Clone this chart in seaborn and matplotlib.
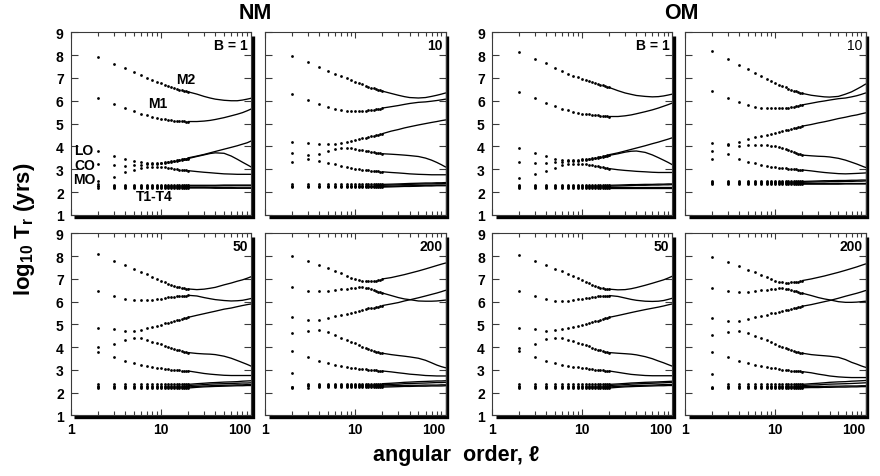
import matplotlib
matplotlib.use("Agg")
import matplotlib.pyplot as plt
from matplotlib.ticker import FixedLocator, LogLocator, NullFormatter, NullLocator
from matplotlib.transforms import offset_copy
import pandas as pd
import seaborn as sns

# ---------------------------------------------------------------- data
DOT_ORDERS = [2, 3, 4, 5, 6, 7, 8, 9, 10, 11, 12, 13, 14, 15, 16, 17, 18, 19, 20]
LINE_ORDERS = [20, 25, 30, 35, 40, 50, 60, 70, 80, 90, 100]
BRANCHES = ["M2", "M1", "LO", "CO", "MO", "T1", "T2", "T3", "T4"]
GROUPS = ["NM", "OM"]
FIELD_LABELS = ["B = 1", "10", "50", "200"]
Y_TICKS = [1, 2, 3, 4, 5, 6, 7, 8, 9]
X_TICKS = [1, 10, 100]
X_TICK_LABELS = ["1", "10", "100"]
MODE_NAMES = ["M2", "M1", "LO", "CO", "MO", "T1-T4"]

NM_B1_DOTS = {
    "M2": [7.90, 7.61, 7.42, 7.24, 7.11, 7.00, 6.91, 6.83, 6.76, 6.70, 6.65, 6.60, 6.56, 6.52, 6.49, 6.46, 6.43, 6.41, 6.39],
    "M1": [6.14, 5.85, 5.68, 5.53, 5.44, 5.36, 5.31, 5.26, 5.22, 5.19, 5.17, 5.15, 5.13, 5.12, 5.11, 5.10, 5.10, 5.09, 5.09],
    "LO": [3.78, 3.60, 3.47, 3.37, 3.31, 3.28, 3.27, 3.28, 3.29, 3.31, 3.33, 3.35, 3.37, 3.39, 3.41, 3.43, 3.45, 3.47, 3.50],
    "CO": [3.25, 3.18, 3.16, 3.17, 3.19, 3.21, 3.23, 3.25, 3.27, 3.29, 3.31, 3.33, 3.35, 3.37, 3.39, 3.41, 3.43, 3.45, 3.47],
    "MO": [2.47, 2.67, 2.86, 2.97, 3.04, 3.08, 3.10, 3.10, 3.09, 3.08, 3.06, 3.04, 3.02, 3.01, 2.99, 2.98, 2.96, 2.95, 2.94],
    "T1": [2.20, 2.20, 2.19, 2.19, 2.19, 2.19, 2.19, 2.18, 2.18, 2.18, 2.18, 2.18, 2.18, 2.18, 2.18, 2.18, 2.18, 2.18, 2.18],
    "T2": [2.25, 2.24, 2.24, 2.23, 2.23, 2.23, 2.22, 2.22, 2.22, 2.22, 2.21, 2.21, 2.21, 2.21, 2.21, 2.21, 2.21, 2.21, 2.21],
    "T3": [2.29, 2.29, 2.28, 2.28, 2.28, 2.27, 2.27, 2.27, 2.27, 2.27, 2.27, 2.27, 2.27, 2.27, 2.27, 2.27, 2.27, 2.27, 2.27],
    "T4": [2.34, 2.33, 2.33, 2.32, 2.32, 2.31, 2.31, 2.31, 2.30, 2.30, 2.30, 2.30, 2.30, 2.30, 2.30, 2.30, 2.30, 2.30, 2.30],
}
NM_B1_LINES = {
    "M2": [6.39, 6.29, 6.19, 6.12, 6.07, 6.02, 6.00, 6.00, 6.03, 6.07, 6.11],
    "M1": [5.09, 5.09, 5.11, 5.14, 5.18, 5.26, 5.34, 5.41, 5.48, 5.56, 5.64],
    "LO": [3.50, 3.58, 3.65, 3.72, 3.78, 3.88, 3.96, 4.03, 4.10, 4.16, 4.24],
    "CO": [3.47, 3.56, 3.63, 3.69, 3.72, 3.70, 3.58, 3.44, 3.31, 3.20, 3.10],
    "MO": [2.94, 2.90, 2.87, 2.85, 2.83, 2.80, 2.79, 2.78, 2.78, 2.78, 2.78],
    "T1": [2.18, 2.18, 2.18, 2.18, 2.17, 2.17, 2.17, 2.17, 2.17, 2.17, 2.17],
    "T2": [2.21, 2.21, 2.21, 2.20, 2.20, 2.20, 2.20, 2.19, 2.19, 2.19, 2.19],
    "T3": [2.27, 2.27, 2.27, 2.27, 2.27, 2.28, 2.28, 2.28, 2.28, 2.28, 2.28],
    "T4": [2.30, 2.30, 2.30, 2.30, 2.30, 2.31, 2.31, 2.31, 2.31, 2.31, 2.31],
}

NM_B10_DOTS = {
    "M2": [7.95, 7.68, 7.48, 7.32, 7.18, 7.07, 6.98, 6.91, 6.84, 6.78, 6.72, 6.66, 6.61, 6.57, 6.54, 6.51, 6.48, 6.45, 6.42],
    "M1": [6.29, 6.04, 5.87, 5.74, 5.65, 5.60, 5.57, 5.55, 5.54, 5.54, 5.55, 5.56, 5.58, 5.59, 5.61, 5.62, 5.64, 5.66, 5.68],
    "LO": [4.21, 4.13, 4.10, 4.10, 4.12, 4.16, 4.20, 4.24, 4.28, 4.32, 4.35, 4.38, 4.41, 4.44, 4.47, 4.49, 4.51, 4.54, 4.56],
    "CO": [3.70, 3.62, 3.68, 3.82, 3.88, 3.91, 3.92, 3.91, 3.89, 3.86, 3.83, 3.81, 3.79, 3.77, 3.75, 3.73, 3.71, 3.70, 3.68],
    "MO": [3.32, 3.46, 3.38, 3.29, 3.21, 3.15, 3.10, 3.06, 3.03, 3.00, 2.98, 2.96, 2.95, 2.94, 2.93, 2.92, 2.91, 2.90, 2.89],
    "T1": [2.21, 2.21, 2.21, 2.21, 2.21, 2.21, 2.21, 2.21, 2.21, 2.21, 2.21, 2.21, 2.21, 2.21, 2.21, 2.21, 2.21, 2.22, 2.22],
    "T2": [2.25, 2.25, 2.25, 2.25, 2.25, 2.25, 2.25, 2.25, 2.25, 2.25, 2.25, 2.25, 2.25, 2.25, 2.25, 2.25, 2.25, 2.25, 2.25],
    "T3": [2.29, 2.29, 2.29, 2.29, 2.29, 2.29, 2.29, 2.29, 2.29, 2.29, 2.29, 2.29, 2.29, 2.29, 2.29, 2.29, 2.30, 2.30, 2.30],
    "T4": [2.34, 2.34, 2.34, 2.34, 2.34, 2.34, 2.34, 2.34, 2.34, 2.34, 2.34, 2.34, 2.34, 2.34, 2.34, 2.34, 2.34, 2.34, 2.34],
}
NM_B10_LINES = {
    "M2": [6.42, 6.32, 6.24, 6.18, 6.14, 6.12, 6.14, 6.19, 6.24, 6.29, 6.34],
    "M1": [5.68, 5.74, 5.79, 5.84, 5.88, 5.93, 5.95, 5.98, 6.01, 6.04, 6.07],
    "LO": [4.56, 4.67, 4.74, 4.81, 4.86, 4.94, 5.00, 5.05, 5.09, 5.13, 5.16],
    "CO": [3.68, 3.66, 3.64, 3.62, 3.60, 3.56, 3.49, 3.40, 3.30, 3.20, 3.10],
    "MO": [2.89, 2.86, 2.84, 2.82, 2.80, 2.78, 2.77, 2.76, 2.76, 2.76, 2.76],
    "T1": [2.22, 2.23, 2.24, 2.25, 2.25, 2.26, 2.27, 2.27, 2.28, 2.28, 2.28],
    "T2": [2.25, 2.26, 2.27, 2.28, 2.28, 2.29, 2.30, 2.30, 2.31, 2.31, 2.31],
    "T3": [2.30, 2.31, 2.32, 2.33, 2.34, 2.35, 2.36, 2.36, 2.37, 2.37, 2.38],
    "T4": [2.34, 2.35, 2.36, 2.37, 2.38, 2.39, 2.40, 2.40, 2.41, 2.41, 2.42],
}

NM_B50_DOTS = {
    "M2": [8.10, 7.79, 7.62, 7.44, 7.32, 7.21, 7.10, 7.01, 6.93, 6.85, 6.79, 6.74, 6.69, 6.66, 6.63, 6.60, 6.59, 6.57, 6.56],
    "M1": [6.49, 6.27, 6.12, 6.08, 6.06, 6.06, 6.08, 6.11, 6.13, 6.16, 6.19, 6.21, 6.22, 6.24, 6.25, 6.26, 6.27, 6.27, 6.28],
    "LO": [4.83, 4.80, 4.73, 4.73, 4.77, 4.83, 4.89, 4.95, 4.99, 5.04, 5.08, 5.12, 5.15, 5.18, 5.21, 5.24, 5.27, 5.29, 5.31],
    "CO": [3.99, 4.14, 4.32, 4.40, 4.39, 4.33, 4.24, 4.18, 4.13, 4.07, 4.02, 3.97, 3.92, 3.89, 3.86, 3.83, 3.80, 3.78, 3.76],
    "MO": [3.80, 3.55, 3.38, 3.28, 3.22, 3.17, 3.13, 3.10, 3.07, 3.05, 3.03, 3.01, 3.00, 2.99, 2.98, 2.97, 2.97, 2.96, 2.95],
    "T1": [2.20, 2.20, 2.20, 2.20, 2.20, 2.20, 2.20, 2.20, 2.20, 2.20, 2.20, 2.20, 2.20, 2.20, 2.20, 2.20, 2.20, 2.20, 2.20],
    "T2": [2.25, 2.25, 2.25, 2.25, 2.25, 2.25, 2.25, 2.25, 2.25, 2.25, 2.25, 2.25, 2.25, 2.25, 2.25, 2.25, 2.25, 2.25, 2.25],
    "T3": [2.31, 2.31, 2.31, 2.31, 2.31, 2.31, 2.31, 2.31, 2.31, 2.31, 2.31, 2.31, 2.31, 2.31, 2.31, 2.31, 2.31, 2.31, 2.31],
    "T4": [2.36, 2.36, 2.36, 2.36, 2.36, 2.36, 2.36, 2.36, 2.36, 2.36, 2.36, 2.36, 2.36, 2.36, 2.36, 2.36, 2.36, 2.36, 2.36],
}
NM_B50_LINES = {
    "M2": [6.56, 6.53, 6.55, 6.59, 6.63, 6.74, 6.82, 6.90, 6.96, 7.03, 7.10],
    "M1": [6.28, 6.25, 6.18, 6.13, 6.09, 6.05, 6.03, 6.04, 6.06, 6.10, 6.14],
    "LO": [5.31, 5.40, 5.47, 5.53, 5.58, 5.67, 5.72, 5.78, 5.83, 5.87, 5.90],
    "CO": [3.76, 3.72, 3.70, 3.69, 3.67, 3.60, 3.51, 3.41, 3.32, 3.24, 3.16],
    "MO": [2.95, 2.89, 2.84, 2.81, 2.79, 2.76, 2.75, 2.75, 2.75, 2.75, 2.75],
    "T1": [2.20, 2.23, 2.25, 2.26, 2.27, 2.28, 2.29, 2.30, 2.30, 2.31, 2.31],
    "T2": [2.25, 2.27, 2.29, 2.30, 2.31, 2.32, 2.33, 2.34, 2.34, 2.35, 2.35],
    "T3": [2.31, 2.33, 2.35, 2.37, 2.38, 2.39, 2.40, 2.41, 2.42, 2.42, 2.43],
    "T4": [2.36, 2.39, 2.41, 2.43, 2.44, 2.46, 2.47, 2.48, 2.50, 2.51, 2.52],
}

NM_B200_DOTS = {
    "M2": [8.03, 7.81, 7.63, 7.47, 7.35, 7.25, 7.15, 7.06, 7.00, 6.95, 6.92, 6.90, 6.89, 6.90, 6.91, 6.93, 6.95, 6.97, 7.00],
    "M1": [6.63, 6.49, 6.46, 6.47, 6.50, 6.55, 6.57, 6.60, 6.62, 6.63, 6.63, 6.62, 6.59, 6.56, 6.52, 6.48, 6.44, 6.41, 6.38],
    "LO": [5.31, 5.20, 5.20, 5.27, 5.36, 5.42, 5.47, 5.52, 5.56, 5.60, 5.64, 5.67, 5.70, 5.72, 5.74, 5.76, 5.78, 5.81, 5.83],
    "CO": [4.62, 4.73, 4.77, 4.65, 4.54, 4.42, 4.32, 4.23, 4.16, 4.09, 4.02, 3.96, 3.91, 3.87, 3.83, 3.80, 3.77, 3.75, 3.73],
    "MO": [3.85, 3.58, 3.41, 3.30, 3.23, 3.17, 3.13, 3.10, 3.07, 3.05, 3.04, 3.02, 3.01, 3.00, 3.00, 2.99, 2.97, 2.96, 2.95],
    "T1": [2.20, 2.22, 2.23, 2.23, 2.24, 2.24, 2.24, 2.24, 2.24, 2.24, 2.24, 2.24, 2.24, 2.24, 2.24, 2.24, 2.24, 2.24, 2.24],
    "T2": [2.23, 2.27, 2.28, 2.28, 2.29, 2.29, 2.29, 2.29, 2.29, 2.29, 2.29, 2.29, 2.29, 2.29, 2.29, 2.29, 2.29, 2.29, 2.29],
    "T3": [2.26, 2.32, 2.33, 2.33, 2.34, 2.34, 2.34, 2.34, 2.34, 2.34, 2.34, 2.34, 2.34, 2.34, 2.34, 2.34, 2.34, 2.34, 2.34],
    "T4": [2.87, 2.37, 2.38, 2.38, 2.39, 2.39, 2.39, 2.39, 2.39, 2.39, 2.39, 2.39, 2.39, 2.39, 2.39, 2.39, 2.39, 2.39, 2.39],
}
NM_B200_LINES = {
    "M2": [7.00, 7.06, 7.13, 7.19, 7.25, 7.35, 7.44, 7.52, 7.59, 7.65, 7.70],
    "M1": [6.38, 6.27, 6.18, 6.12, 6.09, 6.03, 6.02, 6.02, 6.03, 6.05, 6.07],
    "LO": [5.83, 5.90, 5.96, 6.03, 6.08, 6.17, 6.25, 6.32, 6.38, 6.44, 6.50],
    "CO": [3.73, 3.67, 3.63, 3.60, 3.57, 3.51, 3.42, 3.31, 3.21, 3.14, 3.09],
    "MO": [2.95, 2.91, 2.87, 2.84, 2.81, 2.78, 2.75, 2.74, 2.73, 2.73, 2.73],
    "T1": [2.24, 2.25, 2.26, 2.27, 2.27, 2.28, 2.28, 2.29, 2.29, 2.29, 2.30],
    "T2": [2.29, 2.30, 2.31, 2.31, 2.32, 2.32, 2.33, 2.33, 2.33, 2.34, 2.34],
    "T3": [2.34, 2.36, 2.37, 2.39, 2.40, 2.41, 2.42, 2.43, 2.44, 2.44, 2.45],
    "T4": [2.39, 2.41, 2.43, 2.45, 2.46, 2.48, 2.49, 2.50, 2.51, 2.51, 2.52],
}

OM_B1_DOTS = {
    "M2": [8.12, 7.83, 7.64, 7.45, 7.30, 7.18, 7.10, 7.02, 6.95, 6.90, 6.86, 6.81, 6.77, 6.73, 6.70, 6.67, 6.64, 6.61, 6.58],
    "M1": [6.38, 6.10, 5.90, 5.75, 5.66, 5.58, 5.52, 5.47, 5.44, 5.42, 5.40, 5.38, 5.37, 5.36, 5.34, 5.33, 5.33, 5.32, 5.31],
    "LO": [3.95, 3.73, 3.58, 3.47, 3.42, 3.40, 3.40, 3.41, 3.43, 3.45, 3.47, 3.49, 3.51, 3.53, 3.55, 3.57, 3.59, 3.61, 3.64],
    "CO": [3.32, 3.26, 3.29, 3.32, 3.33, 3.35, 3.36, 3.38, 3.40, 3.42, 3.44, 3.46, 3.48, 3.50, 3.52, 3.54, 3.56, 3.58, 3.61],
    "MO": [2.63, 2.78, 2.92, 3.07, 3.17, 3.22, 3.25, 3.25, 3.24, 3.22, 3.20, 3.17, 3.15, 3.13, 3.11, 3.09, 3.07, 3.05, 3.03],
    "T1": [2.17, 2.17, 2.17, 2.17, 2.17, 2.17, 2.17, 2.17, 2.17, 2.17, 2.17, 2.17, 2.17, 2.17, 2.17, 2.17, 2.17, 2.17, 2.17],
    "T2": [2.21, 2.21, 2.21, 2.21, 2.21, 2.21, 2.21, 2.21, 2.21, 2.21, 2.21, 2.21, 2.21, 2.21, 2.21, 2.21, 2.21, 2.21, 2.21],
    "T3": [2.26, 2.26, 2.26, 2.26, 2.26, 2.26, 2.26, 2.26, 2.26, 2.26, 2.26, 2.26, 2.26, 2.26, 2.26, 2.26, 2.26, 2.26, 2.26],
    "T4": [2.30, 2.30, 2.30, 2.30, 2.30, 2.30, 2.30, 2.30, 2.30, 2.30, 2.30, 2.30, 2.30, 2.30, 2.30, 2.30, 2.30, 2.30, 2.30],
}
OM_B1_LINES = {
    "M2": [6.58, 6.44, 6.34, 6.28, 6.23, 6.19, 6.17, 6.18, 6.21, 6.25, 6.29],
    "M1": [5.31, 5.31, 5.34, 5.38, 5.43, 5.52, 5.60, 5.68, 5.76, 5.83, 5.90],
    "LO": [3.64, 3.72, 3.80, 3.87, 3.93, 4.03, 4.12, 4.19, 4.26, 4.32, 4.38],
    "CO": [3.61, 3.68, 3.75, 3.79, 3.80, 3.74, 3.63, 3.51, 3.40, 3.30, 3.20],
    "MO": [3.03, 2.98, 2.95, 2.93, 2.91, 2.89, 2.87, 2.86, 2.86, 2.86, 2.86],
    "T1": [2.17, 2.17, 2.17, 2.17, 2.17, 2.17, 2.17, 2.17, 2.17, 2.17, 2.17],
    "T2": [2.21, 2.21, 2.21, 2.21, 2.21, 2.21, 2.21, 2.21, 2.21, 2.21, 2.21],
    "T3": [2.26, 2.27, 2.28, 2.29, 2.30, 2.30, 2.31, 2.31, 2.32, 2.32, 2.33],
    "T4": [2.30, 2.31, 2.32, 2.33, 2.33, 2.34, 2.34, 2.35, 2.35, 2.36, 2.36],
}

OM_B10_DOTS = {
    "M2": [8.19, 7.83, 7.58, 7.37, 7.21, 7.07, 6.95, 6.85, 6.78, 6.70, 6.63, 6.58, 6.53, 6.48, 6.44, 6.41, 6.38, 6.35, 6.32],
    "M1": [6.44, 6.12, 5.93, 5.81, 5.74, 5.70, 5.68, 5.67, 5.67, 5.67, 5.68, 5.69, 5.70, 5.72, 5.74, 5.76, 5.78, 5.80, 5.82],
    "LO": [4.17, 4.10, 4.20, 4.31, 4.40, 4.46, 4.50, 4.55, 4.60, 4.64, 4.67, 4.71, 4.74, 4.77, 4.79, 4.82, 4.84, 4.86, 4.89],
    "CO": [3.80, 4.05, 4.02, 4.07, 4.08, 4.07, 4.06, 4.04, 4.01, 3.97, 3.93, 3.88, 3.83, 3.79, 3.75, 3.71, 3.68, 3.65, 3.62],
    "MO": [3.47, 3.66, 3.47, 3.33, 3.26, 3.19, 3.14, 3.11, 3.08, 3.06, 3.05, 3.04, 3.03, 3.02, 3.01, 3.00, 2.99, 2.98, 2.97],
    "T1": [2.35, 2.35, 2.35, 2.35, 2.35, 2.35, 2.35, 2.35, 2.35, 2.35, 2.35, 2.35, 2.35, 2.35, 2.35, 2.35, 2.35, 2.35, 2.35],
    "T2": [2.39, 2.39, 2.39, 2.39, 2.39, 2.39, 2.39, 2.39, 2.39, 2.39, 2.39, 2.39, 2.39, 2.39, 2.39, 2.39, 2.39, 2.39, 2.39],
    "T3": [2.43, 2.43, 2.43, 2.43, 2.43, 2.43, 2.43, 2.43, 2.43, 2.43, 2.43, 2.43, 2.43, 2.43, 2.43, 2.43, 2.43, 2.43, 2.43],
    "T4": [2.47, 2.47, 2.47, 2.47, 2.47, 2.47, 2.47, 2.47, 2.47, 2.47, 2.47, 2.47, 2.47, 2.47, 2.47, 2.47, 2.47, 2.47, 2.47],
}
OM_B10_LINES = {
    "M2": [6.32, 6.24, 6.20, 6.17, 6.16, 6.19, 6.29, 6.39, 6.51, 6.62, 6.73],
    "M1": [5.82, 5.89, 5.95, 5.99, 6.03, 6.09, 6.12, 6.17, 6.22, 6.28, 6.34],
    "LO": [4.89, 4.96, 5.03, 5.08, 5.13, 5.22, 5.28, 5.34, 5.38, 5.43, 5.47],
    "CO": [3.62, 3.59, 3.57, 3.56, 3.54, 3.48, 3.40, 3.31, 3.23, 3.15, 3.08],
    "MO": [2.97, 2.93, 2.89, 2.86, 2.84, 2.81, 2.80, 2.81, 2.82, 2.83, 2.84],
    "T1": [2.35, 2.35, 2.35, 2.35, 2.35, 2.35, 2.36, 2.36, 2.36, 2.36, 2.36],
    "T2": [2.39, 2.39, 2.39, 2.39, 2.39, 2.39, 2.39, 2.39, 2.39, 2.39, 2.39],
    "T3": [2.43, 2.44, 2.45, 2.45, 2.46, 2.46, 2.47, 2.47, 2.48, 2.48, 2.49],
    "T4": [2.47, 2.48, 2.49, 2.50, 2.50, 2.51, 2.51, 2.52, 2.52, 2.53, 2.53],
}

OM_B50_DOTS = {
    "M2": [8.05, 7.79, 7.62, 7.44, 7.33, 7.22, 7.11, 7.02, 6.94, 6.86, 6.80, 6.74, 6.69, 6.65, 6.62, 6.59, 6.57, 6.56, 6.55],
    "M1": [6.47, 6.26, 6.11, 6.05, 6.04, 6.05, 6.07, 6.10, 6.13, 6.16, 6.18, 6.20, 6.22, 6.24, 6.25, 6.26, 6.27, 6.27, 6.27],
    "LO": [4.83, 4.79, 4.73, 4.74, 4.78, 4.83, 4.89, 4.94, 4.98, 5.03, 5.07, 5.11, 5.14, 5.17, 5.20, 5.23, 5.26, 5.29, 5.31],
    "CO": [3.97, 4.14, 4.36, 4.40, 4.38, 4.32, 4.25, 4.19, 4.13, 4.08, 4.03, 3.98, 3.93, 3.89, 3.86, 3.83, 3.80, 3.78, 3.76],
    "MO": [3.82, 3.55, 3.38, 3.29, 3.23, 3.18, 3.14, 3.11, 3.08, 3.06, 3.04, 3.02, 3.01, 3.00, 2.99, 2.98, 2.97, 2.96, 2.95],
    "T1": [2.20, 2.20, 2.20, 2.20, 2.20, 2.20, 2.20, 2.20, 2.20, 2.20, 2.20, 2.20, 2.20, 2.20, 2.20, 2.20, 2.20, 2.20, 2.20],
    "T2": [2.25, 2.25, 2.25, 2.25, 2.25, 2.25, 2.25, 2.25, 2.25, 2.25, 2.25, 2.25, 2.25, 2.25, 2.25, 2.25, 2.25, 2.25, 2.25],
    "T3": [2.31, 2.31, 2.31, 2.31, 2.31, 2.31, 2.31, 2.31, 2.31, 2.31, 2.31, 2.31, 2.31, 2.31, 2.31, 2.31, 2.31, 2.31, 2.31],
    "T4": [2.36, 2.36, 2.36, 2.36, 2.36, 2.36, 2.36, 2.36, 2.36, 2.36, 2.36, 2.36, 2.36, 2.36, 2.36, 2.36, 2.36, 2.36, 2.36],
}
OM_B50_LINES = {
    "M2": [6.55, 6.52, 6.53, 6.57, 6.62, 6.72, 6.81, 6.89, 6.96, 7.04, 7.12],
    "M1": [6.27, 6.23, 6.16, 6.10, 6.06, 6.02, 6.01, 6.02, 6.05, 6.10, 6.15],
    "LO": [5.31, 5.39, 5.46, 5.52, 5.57, 5.65, 5.71, 5.76, 5.81, 5.86, 5.90],
    "CO": [3.76, 3.73, 3.71, 3.69, 3.66, 3.58, 3.49, 3.39, 3.31, 3.23, 3.16],
    "MO": [2.95, 2.89, 2.84, 2.80, 2.78, 2.75, 2.74, 2.74, 2.74, 2.74, 2.74],
    "T1": [2.20, 2.23, 2.25, 2.26, 2.27, 2.28, 2.29, 2.30, 2.30, 2.31, 2.31],
    "T2": [2.25, 2.27, 2.29, 2.30, 2.31, 2.32, 2.33, 2.34, 2.35, 2.35, 2.36],
    "T3": [2.31, 2.33, 2.35, 2.37, 2.38, 2.40, 2.41, 2.42, 2.43, 2.44, 2.45],
    "T4": [2.36, 2.38, 2.40, 2.42, 2.43, 2.45, 2.46, 2.47, 2.48, 2.49, 2.50],
}

OM_B200_DOTS = {
    "M2": [7.95, 7.76, 7.59, 7.41, 7.29, 7.18, 7.07, 7.00, 6.93, 6.88, 6.85, 6.84, 6.84, 6.85, 6.86, 6.87, 6.88, 6.90, 6.93],
    "M1": [6.59, 6.46, 6.43, 6.44, 6.47, 6.50, 6.53, 6.56, 6.57, 6.58, 6.58, 6.57, 6.55, 6.52, 6.49, 6.46, 6.43, 6.40, 6.37],
    "LO": [5.27, 5.17, 5.17, 5.24, 5.31, 5.39, 5.43, 5.48, 5.52, 5.56, 5.59, 5.62, 5.65, 5.68, 5.71, 5.73, 5.75, 5.78, 5.80],
    "CO": [4.54, 4.68, 4.73, 4.62, 4.51, 4.39, 4.30, 4.21, 4.14, 4.07, 4.01, 3.96, 3.91, 3.87, 3.83, 3.80, 3.77, 3.75, 3.73],
    "MO": [3.80, 3.55, 3.38, 3.28, 3.20, 3.16, 3.11, 3.09, 3.06, 3.03, 3.01, 3.00, 2.98, 2.97, 2.97, 2.96, 2.95, 2.94, 2.92],
    "T1": [2.19, 2.21, 2.21, 2.21, 2.21, 2.21, 2.21, 2.21, 2.21, 2.21, 2.21, 2.21, 2.21, 2.21, 2.21, 2.21, 2.21, 2.21, 2.21],
    "T2": [2.22, 2.26, 2.26, 2.26, 2.26, 2.26, 2.26, 2.26, 2.26, 2.26, 2.26, 2.26, 2.26, 2.26, 2.26, 2.26, 2.26, 2.26, 2.26],
    "T3": [2.25, 2.31, 2.31, 2.31, 2.31, 2.31, 2.31, 2.31, 2.31, 2.31, 2.31, 2.31, 2.31, 2.31, 2.31, 2.31, 2.31, 2.31, 2.31],
    "T4": [2.82, 2.36, 2.36, 2.36, 2.36, 2.36, 2.36, 2.36, 2.36, 2.36, 2.36, 2.36, 2.36, 2.36, 2.36, 2.36, 2.36, 2.36, 2.36],
}
OM_B200_LINES = {
    "M2": [6.93, 7.00, 7.07, 7.13, 7.19, 7.29, 7.38, 7.46, 7.53, 7.60, 7.66],
    "M1": [6.37, 6.27, 6.18, 6.12, 6.08, 6.00, 5.97, 5.97, 5.98, 6.00, 6.02],
    "LO": [5.80, 5.87, 5.94, 6.00, 6.05, 6.15, 6.24, 6.31, 6.37, 6.43, 6.49],
    "CO": [3.73, 3.67, 3.64, 3.62, 3.60, 3.55, 3.45, 3.33, 3.25, 3.17, 3.11],
    "MO": [2.92, 2.87, 2.81, 2.77, 2.73, 2.69, 2.67, 2.66, 2.66, 2.66, 2.66],
    "T1": [2.21, 2.22, 2.22, 2.23, 2.23, 2.24, 2.24, 2.25, 2.25, 2.26, 2.26],
    "T2": [2.26, 2.26, 2.27, 2.27, 2.28, 2.28, 2.29, 2.29, 2.29, 2.30, 2.30],
    "T3": [2.31, 2.33, 2.34, 2.36, 2.37, 2.38, 2.39, 2.40, 2.41, 2.42, 2.43],
    "T4": [2.36, 2.39, 2.41, 2.43, 2.45, 2.47, 2.48, 2.50, 2.51, 2.52, 2.53],
}

# --------------------------------------------------------------- style
sns.set_style("ticks")
plt.rcParams.update({
    "font.family": ["Liberation Sans", "DejaVu Sans"],
    "font.weight": "bold",
    "mathtext.fontset": "custom",
    "mathtext.rm": "Liberation Sans:bold",
    "mathtext.bf": "Liberation Sans:bold",
    "mathtext.it": "Liberation Sans:bold:italic",
    "axes.linewidth": 0.8,
    "text.color": "black",
    "axes.labelcolor": "black",
    "xtick.labelcolor": "black",
    "ytick.labelcolor": "black",
})

FRAME = "#3a3a3a"
fig = plt.figure(figsize=(8.8, 4.77), dpi=100)

COL_LEFT = [0.0803, 0.3011, 0.5588, 0.7784]
ROW_BOTTOM = [0.5472, 0.1273]
ROW_HEIGHT = [0.3832, 0.3811]
AX_W = 0.2052

PANELS = [
    # group, row, column inside group, dots, lines, field label, label weight
    ("NM", 0, 0, NM_B1_DOTS, NM_B1_LINES, FIELD_LABELS[0], "bold"),
    ("NM", 0, 1, NM_B10_DOTS, NM_B10_LINES, FIELD_LABELS[1], "bold"),
    ("NM", 1, 0, NM_B50_DOTS, NM_B50_LINES, FIELD_LABELS[2], "bold"),
    ("NM", 1, 1, NM_B200_DOTS, NM_B200_LINES, FIELD_LABELS[3], "bold"),
    ("OM", 0, 0, OM_B1_DOTS, OM_B1_LINES, FIELD_LABELS[0], "bold"),
    ("OM", 0, 1, OM_B10_DOTS, OM_B10_LINES, FIELD_LABELS[1], "normal"),
    ("OM", 1, 0, OM_B50_DOTS, OM_B50_LINES, FIELD_LABELS[2], "bold"),
    ("OM", 1, 1, OM_B200_DOTS, OM_B200_LINES, FIELD_LABELS[3], "bold"),
]


def long_form(table, orders):
    rows = [(b, l, v) for b in BRANCHES for l, v in zip(orders, table[b])]
    return pd.DataFrame(rows, columns=["branch", "l", "T"])


axes = {}
for group, row, sub, dots, lines, label, weight in PANELS:
    col = GROUPS.index(group) * 2 + sub
    ax = fig.add_axes([COL_LEFT[col], ROW_BOTTOM[row], AX_W, ROW_HEIGHT[row]])
    axes[(group, row, sub)] = ax

    sns.lineplot(data=long_form(lines, LINE_ORDERS), x="l", y="T", units="branch",
                 estimator=None, color="black", linewidth=0.95, ax=ax, legend=False)
    sns.scatterplot(data=long_form(dots, DOT_ORDERS), x="l", y="T", color="black",
                    s=4.0, linewidth=0, ax=ax, legend=False)

    # drop shadow along the right and bottom edges
    shadow = offset_copy(ax.transAxes, fig=fig, x=1.6, y=-1.6, units="dots")
    ax.plot([0.012, 1, 1], [0, 0, 0.988], transform=shadow, color="black", lw=2.4,
            clip_on=False, solid_joinstyle="miter", solid_capstyle="butt")

    ax.set_xscale("log")
    ax.set_xlim(1, 100)
    ax.set_ylim(1, 9)
    ax.set_xlabel("")
    ax.set_ylabel("")
    for side in ax.spines.values():
        side.set_color(FRAME)
        side.set_linewidth(0.8)

    ax.xaxis.set_major_locator(FixedLocator(X_TICKS))
    ax.xaxis.set_minor_locator(LogLocator(base=10, subs=(2, 3, 4, 5, 6, 7, 8, 9)))
    ax.xaxis.set_minor_formatter(NullFormatter())
    ax.yaxis.set_major_locator(FixedLocator(Y_TICKS))
    ax.yaxis.set_minor_locator(NullLocator())
    ax.tick_params(which="both", direction="in", top=True, right=True,
                   color=FRAME, width=0.8, labelcolor="black")
    ax.tick_params(axis="y", which="major", length=5, labelsize=10, pad=5)
    ax.tick_params(axis="x", which="major", length=4.5, labelsize=10, pad=5)
    ax.tick_params(axis="x", which="minor", length=2.6)

    if row == 1:
        ax.set_xticklabels(X_TICK_LABELS)
        ax.get_xticklabels()[-1].set_horizontalalignment("right")
    else:
        ax.tick_params(axis="x", labelbottom=False)
    if sub == 0:
        ax.set_yticklabels([str(v) for v in Y_TICKS])
    else:
        ax.tick_params(axis="y", labelleft=False)

    ax.text(0.983, 0.967, label, transform=ax.transAxes, ha="right", va="top",
            fontsize=10, fontweight=weight, color="black")

# mode names in the first panel
ax = axes[("NM", 0, 0)]
MODE_POS = [(19.0, 6.94, "center"), (9.3, 5.92, "center"), (1.09, 3.86, "left"),
            (1.09, 3.20, "left"), (1.06, 2.58, "left"), (8.4, 1.83, "center")]
for name, (x, y, ha) in zip(MODE_NAMES, MODE_POS):
    ax.text(x, y, name, ha=ha, va="center", fontsize=10, fontweight="bold", color="black")

fig.text(0.290, 0.971, GROUPS[0], ha="center", va="center", fontsize=15.5,
         fontweight="bold", color="black")
fig.text(0.774, 0.971, GROUPS[1], ha="center", va="center", fontsize=15.5,
         fontweight="bold", color="black")
fig.text(0.028, 0.52, r"log$_{10}$ T$_{\mathrm{r}}$ (yrs)", rotation=90,
         ha="center", va="center", fontsize=16, fontweight="bold", color="black")
fig.text(0.518, 0.045, "angular  order, \u2113", ha="center", va="center",
         fontsize=15.5, fontweight="bold", color="black")

fig.savefig("out.png", dpi=100)
